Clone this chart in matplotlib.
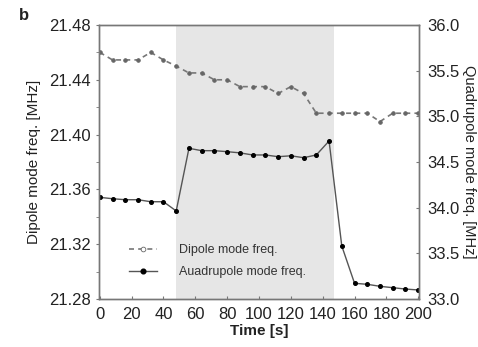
import matplotlib
matplotlib.use('Agg')
import matplotlib.pyplot as plt
from matplotlib.ticker import MultipleLocator, FormatStrFormatter

plt.rcParams['font.family'] = ['Liberation Sans', 'DejaVu Sans']

# time points [s]
time = [0, 8, 16, 24, 32, 40, 48, 56, 64, 72, 80, 88, 96, 104, 112, 120,
        128, 136, 144, 152, 160, 168, 176, 184, 192, 200]

# dipole mode frequency [MHz] (left axis)
dipole = [21.460, 21.4545, 21.4545, 21.4545, 21.460, 21.4545, 21.450, 21.445,
          21.445, 21.440, 21.440, 21.435, 21.435, 21.435, 21.430, 21.435,
          21.430, 21.4156, 21.4156, 21.4156, 21.4156, 21.4156, 21.4095,
          21.4156, 21.4156, 21.4156]

# quadrupole mode frequency [MHz] (right axis)
quad = [34.113, 34.098, 34.087, 34.087, 34.065, 34.065, 33.964, 34.650,
        34.624, 34.624, 34.613, 34.600, 34.577, 34.577, 34.558, 34.568,
        34.547, 34.577, 34.730, 33.580, 33.172, 33.161, 33.139, 33.124,
        33.109, 33.099]

# shaded interval [s]
shade = (48, 147)

fig = plt.figure(figsize=(4.78, 3.47), dpi=100)
ax = fig.add_axes([0.2071, 0.1383, 0.6695, 0.7897])
ax2 = ax.twinx()

# ax2 sits underneath, so the shading goes there
ax2.axvspan(shade[0], shade[1], color='#e6e6e6', lw=0, zorder=0)

l1, = ax.plot(time, dipole, ls=(0, (3, 2.5)), color='#777777', lw=1.2,
              marker='o', ms=2.6, mfc='#666666', mec='#666666', mew=0.6,
              label='Dipole mode freq.')
l2, = ax2.plot(time, quad, ls='-', color='#555555', lw=1.0,
               marker='o', ms=2.6, mfc='black', mec='black',
               label='Auadrupole mode freq.')

ax.set_xlim(-0.5, 200.5)
ax.set_ylim(21.28, 21.48)
ax2.set_ylim(33.0, 36.0)

ax.xaxis.set_major_locator(MultipleLocator(20))
ax.yaxis.set_major_locator(MultipleLocator(0.04))
ax.yaxis.set_minor_locator(MultipleLocator(0.02))
ax.yaxis.set_major_formatter(FormatStrFormatter('%.2f'))
ax2.yaxis.set_major_locator(MultipleLocator(0.5))
ax2.yaxis.set_major_formatter(FormatStrFormatter('%.1f'))

for a in (ax, ax2):
    for s in a.spines.values():
        s.set_color('#777777')
        s.set_linewidth(1.0)

ax.tick_params(axis='x', direction='in', length=2, color='#777777',
               labelsize=12, labelcolor='#222222', pad=6)
ax.tick_params(axis='y', which='both', direction='out', length=2,
               color='#777777', labelsize=12, labelcolor='#222222', pad=4)
ax2.tick_params(axis='y', direction='in', length=2, color='#777777',
                labelsize=12, labelcolor='#222222', pad=6)

ax.set_xlabel('Time [s]', fontsize=11, fontweight='bold', color='#222222',
              labelpad=1)
ax.set_ylabel('Dipole mode freq. [MHz]', fontsize=11, color='#222222',
              labelpad=6)
ax2.set_ylabel('Quadrupole mode freq. [MHz]', fontsize=10.5, color='#222222',
               rotation=270, labelpad=12)

ax.set_zorder(ax2.get_zorder() + 1)
ax.patch.set_visible(False)

leg = ax.legend(handles=[l1, l2], loc='upper left',
                bbox_to_anchor=(0.06, 0.24), frameon=False, fontsize=9,
                handlelength=2.2, handletextpad=1.8, labelspacing=0.8,
                markerscale=1.3)
leg.legend_handles[0].set_markerfacecolor('white')
for t in leg.get_texts():
    t.set_color('#333333')

fig.text(0.04, 0.955, 'b', fontsize=12, fontweight='bold', color='#222222',
         ha='left', va='center')

fig.savefig('out.png', dpi=100)
